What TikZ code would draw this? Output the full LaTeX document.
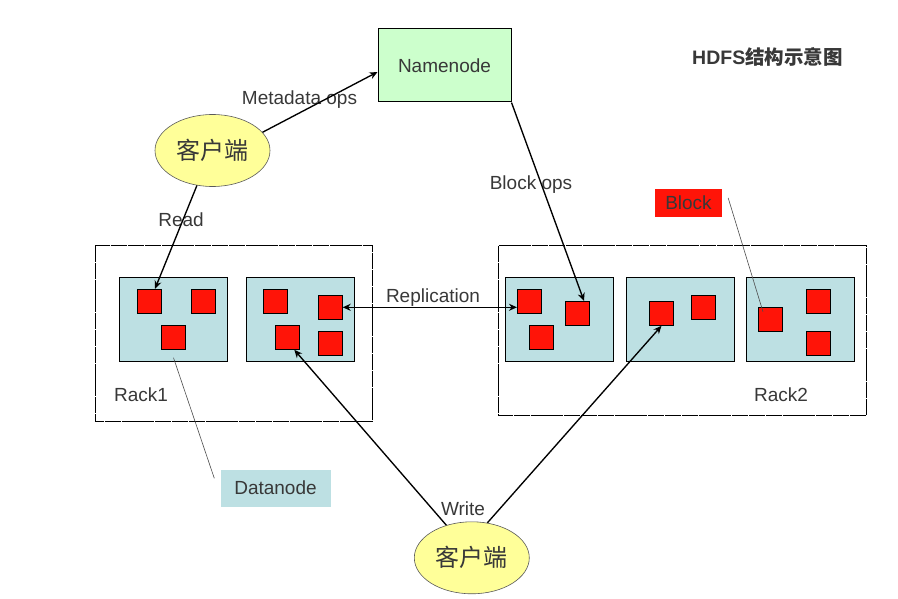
\documentclass[tikz,border=0pt]{standalone}
\usepackage{fontspec}
\setmainfont{Liberation Sans}
\newfontfamily\cjk{Noto Sans CJK SC}
\usetikzlibrary{shapes.geometric,arrows.meta,calc}
\definecolor{txt}{RGB}{56,56,56}
\definecolor{nngreen}{RGB}{204,255,204}
\definecolor{dnblue}{RGB}{189,224,227}
\definecolor{blkred}{RGB}{255,20,8}
\definecolor{clyellow}{RGB}{255,255,153}
\begin{document}
\begin{tikzpicture}[x=1pt,y=-1pt,
 lbl/.style={text=txt,font=\fontsize{19}{21}\selectfont,inner sep=0pt},
 rack/.style={draw=black,line width=1pt,dash pattern=on 16pt off 0.8pt},
 dn/.style={draw=black,fill=dnblue,line width=1pt,minimum width=108pt,minimum height=84pt,inner sep=0pt},
 blk/.style={draw=black,fill=blkred,line width=1pt,minimum size=24pt,inner sep=0pt},
 client/.style={ellipse,draw=gray!70!black,fill=clyellow,line width=0.6pt,minimum width=115pt,minimum height=72pt,inner sep=0pt,text=txt,font=\cjk\fontsize{24}{26}\selectfont},
 arr/.style={-{Stealth[length=8pt,width=7pt]},line width=1.35pt},
 leader/.style={draw=black!70,line width=0.6pt}]
\useasboundingbox (0,0) rectangle (898,599);

% racks
\draw[rack] (95.3,246) rectangle (372.7,421.3);
\draw[rack] (498.3,246) rectangle (866.3,415.3);

% datanodes
\node[dn] (dn1) at (173.5,319.3) {};
\node[dn] (dn2) at (300,319.3) {};
\node[dn] (dn3) at (559.5,319.3) {};
\node[dn] (dn4) at (680,319.3) {};
\node[dn] (dn5) at (800.2,319.3) {};

% blocks
\node[blk] (b11) at (149.5,301.3) {};
\node[blk] (b12) at (203.5,301.3) {};
\node[blk] (b13) at (173.5,337.3) {};
\node[blk] (b21) at (275.3,301.3) {};
\node[blk] (b22) at (330.2,307.3) {};
\node[blk] (b23) at (287.8,337.3) {};
\node[blk] (b24) at (330.2,343.3) {};
\node[blk] (b31) at (529.5,301.3) {};
\node[blk] (b32) at (577.5,313.5) {};
\node[blk] (b33) at (541.5,337.3) {};
\node[blk] (b41) at (661.5,313.3) {};
\node[blk] (b42) at (703.5,307.3) {};
\node[blk] (b51) at (770.5,319.3) {};
\node[blk] (b52) at (818.5,301.3) {};
\node[blk] (b53) at (818.5,343.3) {};

% namenode and clients
\node[draw=black,fill=nngreen,line width=1pt,minimum width=133pt,minimum height=73pt,inner sep=0pt,lbl] (nn) at (444.5,65.5) {Namenode};
\node[client] (c1) at (212.5,150.5) {客户端};
\node[client] (c2) at (471.8,557.8) {客户端};

% legend labels
\node[fill=blkred,minimum width=67pt,minimum height=28pt,lbl] (blklbl) at (688.5,203) {Block};
\node[fill=dnblue,minimum width=110pt,minimum height=37pt,lbl] (dnlbl) at (275.5,488) {Datanode};
\node[text=txt,inner sep=0pt,font=\bfseries\fontsize{19.5}{21}\selectfont] (title) at (767.5,57) {HDFS{\cjk 结构示意图}};

% text labels
\node[lbl] (lmeta) at (299.5,100) {Metadata ops};
\node[lbl] (lbops) at (531,185) {Block ops};
\node[lbl] (lread) at (181,220) {Read};
\node[lbl] (lrep) at (433,298) {Replication};
\node[lbl] (lwrite) at (463,509) {Write};
\node[lbl] (lrack1) at (141,395) {Rack1};
\node[lbl] (lrack2) at (781,395) {Rack2};

% leader lines
\draw[leader] ([xshift=6pt,yshift=5pt]blklbl.east) -- ([xshift=5pt,yshift=-5pt]b51.north west);
\draw[leader] ([xshift=-6pt,yshift=-9pt]dnlbl.north west) -- ([yshift=4pt]dn1.south);

% arrows
\draw[arr] (c1.20) -- ([yshift=-6.5pt]nn.west);
\draw[arr] (c1.246) -- ([xshift=5.5pt]b11.north);
\draw[arr] (nn.south east) -- ([xshift=6.5pt]b32.north);
\draw[line width=1.35pt,{Stealth[length=8pt,width=7pt]}-{Stealth[length=8pt,width=7pt]}] (b22.east) -- (b22.east -| b31.west);
\draw[arr] (c2.128) -- ([xshift=-6pt]b23.south east);
\draw[arr] (c2.66) -- (b41.south);
\end{tikzpicture}
\end{document}
